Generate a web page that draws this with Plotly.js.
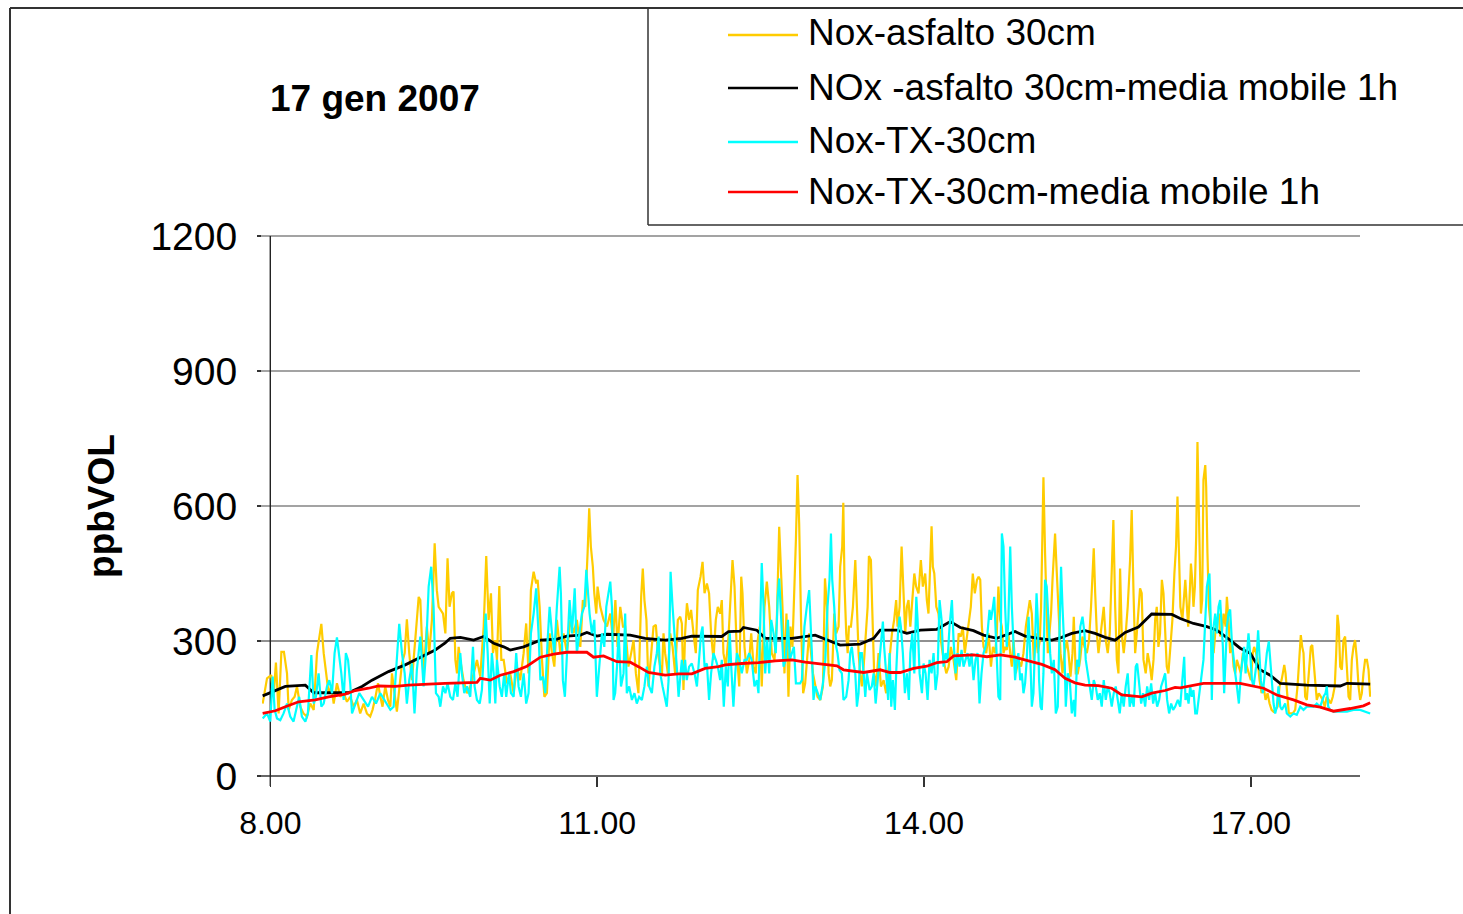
<!DOCTYPE html>
<html><head><meta charset="utf-8">
<script src="https://cdn.plot.ly/plotly-3.0.1.min.js"></script>
<style>html,body{margin:0;padding:0;background:#fff}#chart{width:1463px;height:914px}</style>
</head><body><div id="chart"></div>
<script>
const chartTitle = '17 gen 2007';
const yTitle = 'ppbVOL';
const seriesNames = ['Nox-asfalto 30cm', 'NOx -asfalto 30cm-media mobile 1h', 'Nox-TX-30cm', 'Nox-TX-30cm-media mobile 1h'];
const seriesColors = ['#FFCC00', '#000000', '#00FFFF', '#FF0000'];
const xTickVals = [8, 11, 14, 17];
const xTickText = ['8.00', '11.00', '14.00', '17.00'];
const yTickVals = [0, 300, 600, 900, 1200];

// [minutes after 8.00, ppbVOL]
const noxAsfalto = [
[-4.2,161],[-1.8,217],[0.5,224],[1.8,176],[3.1,252],[4.6,139],[6.1,276],[7.5,276],[9.2,228],[10.1,147],[11.9,169],[13.4,176],[14.7,199],[16.5,154],[18.3,139],[20.2,132],[22,161],[23.9,147],[25.7,273],[27,310],[28.1,338],[29.4,273],[30.6,228],[32.1,184],[33.6,199],[34.9,161],[36.7,206],[38.5,176],[40.4,184],[42.2,165],[44,176],[45.9,154],[47.7,169],[49.5,139],[51.4,161],[53.2,139],[55,132],[56.3,147],[57.8,173],[59.3,206],[60.6,176],[61.8,154],[63.3,199],[64.8,169],[66.1,154],[67,228],[68.4,184],[69.7,143],[72.5,250],[74,273],[75.2,348],[76.5,273],[78,213],[79.4,295],[80.7,347],[81.7,398],[82.6,391],[83.5,302],[84.4,236],[85.3,280],[86.2,332],[87.5,273],[89,347],[90.5,517],[91.7,413],[92.7,376],
[95.1,361],[96.4,317],[97.6,484],[98.7,376],[100,406],[100.9,410],[101.9,258],[102.8,228],[103.7,287],[104.6,258],[106.4,213],[108.3,184],[110.1,199],[112,228],[113.8,258],[115.6,221],[117.5,332],[118.9,489],[120.2,347],[121.5,406],[122.6,273],[123.9,302],[124.8,258],[126.1,422],[127.2,258],[128.5,258],[130.3,206],[132.1,228],[134,184],[135.8,243],[137.6,213],[139.5,273],[140.9,339],[142.2,228],[143.5,413],[145,454],[146.4,428],[147.2,436],[148.3,376],[149.6,258],[150.9,176],[152.3,184],[153.8,317],[155.1,273],[156.4,243],[157.8,347],[159.7,273],[161.5,317],[163.3,273],[165.2,347],[167,317],[168.8,347],[170.7,287],[172.1,391],[173.4,376],[174.7,495],[175.6,595],[176.5,510],[177.6,465],[178.4,406],[179.5,361],[180.2,421],[181.7,376],[183.5,347],[185.4,332],[187.2,361],[188.7,302],[190,391],[191.2,287],[192.7,376],[194.2,332],
[195.4,332],[197.2,243],[198.7,273],[200,302],[201.3,228],[202.7,184],[204.2,398],[205.1,461],[206,391],[207.1,347],[208.2,199],[209.7,273],[211,332],[212.3,336],[213.4,273],[214.7,243],[215.6,221],[216.5,317],[217.4,273],[218.9,228],[220.2,317],[221.5,287],[222.9,228],[224.4,347],[225.7,354],[226.6,339],[227.5,191],[228.4,317],[229.4,384],[230.6,347],[231.7,369],[233,317],[234.3,273],[235.4,413],[236.9,443],[238,476],[239.1,406],[240.4,428],[241.6,406],[242.7,317],[244,258],[245.3,347],[246.4,376],[247.7,361],[248.6,391],[249.5,273],[250.8,243],[252.3,310],[253.4,391],[254.5,480],[255.6,421],[256.9,273],[258.2,199],[259.3,443],[260,406],[261.1,287],[262.4,228],[263.7,258],[264.8,317],[266.1,243],[267.3,228],[268.4,302],[269.5,332],[270.6,199],[272.1,376],[273.4,432],[274.7,376],[276.1,273],[277.6,258],[278.9,347],[280.2,554],[281.3,465],[282,376],[283.1,228],[284.2,361],[285.3,176],[286.4,332],[287.5,287],[288.3,376],[289.4,524],[290.3,669],[291.2,561],[292.3,332],[293.4,184],[294.5,206],[296.7,317],
[298.8,228],[300,206],[301.3,176],[302.8,169],[304.3,199],[305.4,439],[306.5,376],[307.4,228],[308.3,199],[309.2,213],[310.5,361],[311.6,317],[312.9,332],[313.8,465],[314.9,510],[315.5,607],[316.2,421],[317.1,317],[317.9,273],[318.6,332],[319.7,332],[320.8,376],[322.1,480],[323,376],[323.9,273],[324.8,228],[325.7,199],[326.7,243],[328.1,317],[328.9,376],[329.6,489],[330.7,480],[331.4,376],[332.5,228],[333.6,199],[334.9,273],[336.2,199],[337.7,213],[339.1,184],[341,258],[342.3,317],[343.5,347],[344.6,391],[345.4,332],[346.5,376],[347.6,510],[348.7,421],[349.6,317],[350.5,376],[351.4,391],[352.4,332],[353.8,406],[354.6,450],[355.6,421],[356.9,406],[358.2,480],[359.3,421],[360.6,450],[361.5,391],[362.4,361],[363.4,487],[364.1,555],[364.8,465],[365.6,450],[366.7,376],[367.9,361],[369.2,302],[370.7,258],[372.2,228],[373.5,243],[374.7,287],[376.2,258],[377.7,213],[379,317],[380.2,310],[381.3,332],[382.4,273],[383.5,310],[384.6,347],[385.7,376],[386.8,450],[387.9,406],[389.1,436],[390,443],[390.9,436],[391.8,332],[392.7,287],[394.2,273],[395.5,317],[396.8,243],[397.9,287],[399.1,273],
[400,317],[400.9,421],[401.9,347],[402.8,332],[403.7,273],[404.6,287],[405.5,280],[406.4,317],[407.4,273],[408.3,243],[409.2,302],[410.5,228],[411.9,258],[413.4,243],[414.7,273],[416,332],[417.1,361],[418.2,391],[419.3,361],[420.4,258],[421.5,317],[422.6,273],[423.7,302],[424.4,376],[425.2,554],[425.7,664],[426.6,495],[427.4,376],[428.1,273],[429,317],[429.9,361],[430.7,436],[431.4,480],[432.1,539],[432.9,465],[434,347],[435.1,273],[436.2,228],[437.3,273],[438.6,302],[439.5,273],[440.6,221],[441.7,273],[442.4,354],[443.5,228],[444.6,228],[445.9,258],[447.2,310],[448.3,287],[449.6,273],[450.8,302],[451.9,376],[452.9,465],[453.4,506],[454.2,406],[455.1,317],[456,273],[457.1,310],[458.2,347],[458.9,376],[460,302],[461.1,273],[462.2,317],[463.3,450],[464.2,569],[465.2,376],[466.1,258],[467,228],[467.9,461],[468.8,317],[469.9,273],[471,317],[472.1,376],[473.4,480],[474.3,591],[475.3,406],[476.2,273],[477.1,317],[478,376],[478.9,417],[479.8,406],[480.8,258],[482,228],[483.1,273],[484.4,243],[485.3,213],[486.3,258],[487.2,347],[488.1,376],[489,287],[489.9,317],[490.9,436],[491.8,406],[492.7,317],[493.6,243],[494.5,228],[495.4,273],[496.7,347],[497.8,450],[498.7,510],[499.5,621],[500.4,510],[501.1,376],[502.2,347],
[503.8,436],[504.7,376],[505.4,332],[506.1,391],[506.9,472],[507.6,436],[508.3,376],[509.1,421],[509.8,532],[510.5,742],[511.3,569],[512,421],[512.4,361],[513.1,391],[513.8,658],[514.8,691],[515.3,643],[516,495],[516.8,376],[517.5,347],[518.4,310],[519.4,273],[520.3,317],[521.2,347],[522.3,361],[523,310],[524.1,324],[524.9,361],[526,332],[526.7,398],[527.6,347],[528.5,273],[529.4,302],[530.4,243],[531.3,228],[532.2,258],[533.3,243],[534.4,228],[535.5,273],[536.6,258],[537.7,243],[538.8,228],[539.9,213],[541,273],[541.7,287],[542.8,273],[543.6,258],[544.7,213],[545.8,184],[546.9,199],[548,169],[549.1,184],[550.2,161],[551.3,147],[552.4,143],[553.5,147],[554.6,154],[555.7,199],[556.8,213],[557.5,228],[558.3,247],[559,228],[559.7,184],[560.8,139],[563,139],[564.3,147],[565.6,199],[566.7,273],[567.4,313],[568.2,287],[568.9,273],[569.8,176],[570.7,169],[571.8,228],[572.9,287],[573.7,291],[574.4,258],[575.3,199],[576.2,169],[577.3,184],[578.4,176],[579.5,169],[580.6,154],[581.7,176],[582.8,169],[583.9,161],[585,176],[586.1,199],[586.9,273],[587.6,358],[588.3,332],[589.1,243],[590,236],[590.9,302],[591.8,310],[592.8,243],[593.7,176],[594.6,169],[595.5,258],[596.4,287],[597.3,302],[598.3,258],[599.2,199],[600.1,169],[601,184],[601.9,228],[602.8,258],[603.8,258],[604.7,236],[605.6,176]
];

const noxAsfaltoMedia = [
[-4.2,178],[8.3,199],[19.3,202],[23.9,185],[43.1,185],[50.5,199],[56,213],[65.1,232],[74.3,247],[83.5,265],[90.8,280],[96.3,296],[99.1,306],[104.6,308],[112,302],[117.5,310],[123,295],[128.5,287],[132.1,280],[139.5,287],[145,295],[148.7,302],[157.8,304],[163.3,311],[170.7,313],[174.3,319],[179.8,311],[185.4,315],[198.2,313],[206.4,306],[217.4,302],[226.6,306],[232.1,311],[248.6,310],[252.3,321],[258.7,322],[260.5,330],[267.9,324],[272.5,306],[287.2,306],[300,313],[304.6,306],[313.8,291],[324.8,293],[332.2,306],[335.8,324],[345,324],[350.5,317],[357.9,324],[367,326],[374.4,343],[379.9,330],[387.2,323],[392.7,313],[400,306],[410.1,321],[415.6,311],[423,306],[430.3,302],[435.8,308],[441.3,317],[448.6,323],[454.1,317],[459.7,308],[465.2,302],[470.7,319],[478,331],[485.3,360],[496.4,359],[501,350],[508.3,339],[515.7,332],[521.2,324],[528.5,302],[534,284],[539.5,273],[545,236],[550.5,224],[556,206],[570.7,202],[589.1,200],[592.8,206],[605.6,204]
];

const noxTX = [
[-4.2,128],[-1.8,139],[0,121],[1.3,221],[2.4,147],[3.7,128],[5.5,124],[7.3,139],[9.2,161],[11,132],[12.8,121],[14.7,154],[15.9,176],[17.4,132],[19.3,121],[20.7,139],[22.6,269],[23.9,161],[25.1,176],[26.6,228],[28.1,154],[29.4,161],[31.2,199],[32.5,213],[34,184],[35.4,273],[36.7,308],[38,265],[39.1,228],[40.4,169],[41.6,273],[42.8,258],[44,206],[45,139],[46.8,161],[49,184],[51.4,169],[53.8,154],[56,176],[58.2,161],[60.6,184],[62.9,169],[64.8,154],[66.1,147],[67.9,154],[69.7,273],[71,338],[72.5,273],[74,228],[75.2,161],[76.5,213],[78,250],[79.4,139],[80.7,236],[82.6,310],[84.4,199],[85.7,273],[87.2,421],[88.6,465],[89.9,376],[91.2,184],[92.7,176],
[93.6,154],[95.1,199],[96.4,184],[97.6,206],[99.1,176],[100.6,169],[101.9,206],[103.1,176],[104.6,273],[105.5,228],[106.8,184],[108.3,199],[110.1,176],[111.6,287],[112.5,199],[113.8,169],[115.3,161],[116.5,191],[117.5,273],[118.6,361],[119.7,273],[120.8,161],[122,273],[123,228],[123.9,161],[124.8,258],[126.3,199],[127.5,176],[128.8,228],[129.9,176],[131.4,228],[132.5,184],[134,176],[135.4,273],[136.7,199],[138,176],[139.5,228],[140.9,161],[142.2,184],[143.5,317],[145,361],[146.4,417],[147.7,317],[148.7,213],[150.1,221],[151.4,184],[152.7,302],[153.8,376],[155.1,317],[156.4,273],[157.8,376],[159.3,465],[160,406],[161.1,213],[162.2,176],[163.3,273],[164.8,391],[166.1,317],[167.6,417],[168.8,273],[170.3,317],[171.6,361],[172.9,376],[174,458],[174.7,421],[175.8,361],[177.1,317],[178.4,347],[179.8,176],[181.3,258],[182.6,317],[183.9,287],[185,376],[187.2,432],[188.1,376],[189,169],[189.9,184],[190.9,243],[191.8,317],[193.1,199],[194.5,228],
[195.4,361],[196.3,184],[197.6,199],[199.1,169],[200.5,184],[201.8,161],[203.1,176],[204.6,169],[206,199],[207.3,243],[208.6,199],[210.1,184],[211.5,243],[212.8,273],[213.8,310],[214.7,228],[216,199],[217.1,176],[218.3,154],[219.3,213],[220.4,454],[221.5,376],[222.6,317],[223.8,243],[224.8,176],[225.7,228],[226.6,258],[227.5,213],[228.4,258],[229.3,213],[230.6,243],[232.1,250],[233.6,228],[234.9,199],[236.1,258],[237.2,317],[238,332],[239.1,243],[240.4,250],[241.6,169],[242.7,228],[244,273],[245.3,258],[246.4,243],[247.7,213],[248.6,258],[249.7,154],[250.8,243],[251.9,199],[253,317],[253.8,243],[255,154],[256,228],[256.9,273],[258.2,258],[259.6,228],[261.1,258],[262.4,258],[263.7,273],[265.1,258],[266.6,199],[267.9,213],[268.8,184],[269.7,317],[270.6,473],[271.6,376],[272.5,228],[273.6,302],[274.7,228],[275.8,347],[277.1,317],[278.3,273],[279.4,398],[280.2,439],[281.3,332],[282.6,243],[283.8,258],[285,347],[286,258],[287.2,273],[288.3,287],[289.4,206],[291.7,206],[292.7,213],[294.1,332],[295.4,376],[296.7,413],
[298.2,273],[299.1,169],[300.1,199],[301.3,184],[302.8,169],[304.3,206],[305.6,258],[306.8,376],[307.9,436],[308.7,539],[309.4,436],[310.5,376],[311.6,287],[312.3,273],[313.4,236],[314.7,228],[315.6,169],[317.1,176],[318.4,213],[319.3,273],[320.2,287],[321.2,250],[322.1,228],[323,154],[323.9,184],[324.8,273],[325.7,273],[326.7,228],[327.6,176],[328.5,228],[330,191],[331.2,199],[332.2,228],[333.3,161],[334.4,213],[335.5,273],[336.6,317],[337.3,343],[338,287],[339.1,228],[340.2,169],[341,273],[341.9,154],[342.8,213],[343.9,147],[344.6,228],[345.6,317],[346.5,354],[347.2,332],[348.3,273],[349.4,184],[350.5,228],[351.6,169],[352.4,273],[353.5,317],[354.6,228],[355.7,398],[356.4,347],[357.5,228],[358.8,184],[359.7,250],[360.8,228],[361.9,169],[363,258],[364.1,228],[365.2,273],[366.3,191],[367.4,228],[368.5,391],[369.6,347],[370.7,243],[371.8,273],[372.9,258],[374,332],[375.3,391],[376.2,302],[377.3,228],[378.4,273],[379.5,243],[380.6,280],[381.7,243],[382.8,258],[383.9,273],[385,243],[386.1,273],[387.2,213],[388.3,258],[389.4,273],[390.5,161],[391.6,228],[392.7,273],[393.8,287],[394.9,317],[396,369],[396.8,347],[397.9,376],[398.6,398],
[400.9,176],[401.9,169],[402.8,539],[403.7,510],[404.6,376],[405.5,287],[406.4,347],[407.4,510],[408.3,376],[409.2,273],[410.1,213],[411,258],[411.9,273],[412.9,213],[413.8,228],[414.7,184],[415.6,206],[416.5,258],[417.5,354],[418.4,273],[419.3,154],[420.2,184],[421.1,332],[421.9,406],[422.6,347],[423.3,213],[424.1,154],[424.8,147],[425.7,228],[426.6,436],[427.5,421],[428.5,332],[429.4,273],[430.3,228],[431.4,258],[432.5,139],[433.6,154],[434.7,347],[435.4,465],[436.2,376],[437.3,273],[438,154],[439.1,228],[440.2,213],[441.3,139],[442.4,169],[443.1,132],[444.2,258],[445.3,243],[446,332],[447.2,354],[448.3,317],[449,258],[450.1,228],[451.2,199],[452.3,169],[453.4,213],[454.5,199],[455.6,169],[456.7,184],[457.8,154],[458.9,213],[460,169],[461.1,199],[462.2,184],[463.3,154],[464.4,184],[465.5,199],[466.6,169],[467.7,139],[468.8,184],[469.9,154],[471,199],[472.1,228],[473.2,154],[474.3,176],[475.4,154],[476.5,243],[477.3,250],[478.4,199],[479.5,161],[480.6,184],[481.7,154],[482.8,199],[483.9,169],[485,206],[486.1,161],[487.2,184],[488.3,154],[489.4,169],[490.5,199],[491.6,213],[492.7,228],[493.8,169],[494.9,139],[496,161],[497.1,147],[498.2,154],[499.7,169],
[501,154],[501.9,206],[503.2,265],[503.9,169],[504.7,184],[505.6,161],[506.5,199],[507.4,176],[508.3,191],[509.3,139],[510.2,139],[511.1,169],[512,199],[512.7,228],[513.8,258],[514.8,347],[515.7,421],[516.6,443],[517.1,450],[517.9,332],[518.4,169],[519.4,332],[520.3,361],[521.2,317],[522.1,376],[523,391],[523.8,332],[524.5,287],[525.2,184],[526,273],[526.7,332],[527.6,361],[528.5,370],[529.4,302],[530.4,258],[531.3,228],[532.2,199],[533.3,161],[534.4,228],[535.5,273],[536.2,287],[537,228],[537.7,273],[538.6,317],[539.5,273],[540.5,213],[541.4,199],[542.8,243],[543.9,324],[544.7,273],[545.4,213],[546.5,184],[547.6,228],[548.7,273],[549.8,299],[550.5,258],[551.5,199],[552.4,161],[553.3,139],[554.2,154],[555.1,199],[556.1,154],[557,147],[558.8,161],[559.7,139],[561.6,132],[563.4,139],[565.2,136],[567.1,154],[568.9,147],[570.7,154],[572.6,154],[574.4,154],[576.2,161],[578.1,154],[579.9,176],[581,184],[581.7,199],[582.5,154],[583.6,147],[585.4,143],[589.1,143],[592.8,143],[596.4,147],[600.1,147],[605.6,139]
];

const noxTXMedia = [
[-4.2,139],[2.8,145],[8.3,154],[15.6,165],[24.8,169],[32.1,176],[41.3,182],[46.8,190],[54.1,195],[59.6,200],[68.8,199],[76.1,202],[87.2,204],[96.3,206],[113.8,208],[115.6,217],[121.1,213],[126.6,224],[134,232],[141.3,244],[148.7,264],[156,271],[163.3,275],[174.3,275],[178,264],[183.5,267],[190.9,254],[198.2,253],[202.7,243],[208.2,230],[217.4,224],[224.8,227],[232.1,227],[239.4,239],[246.8,243],[250.5,247],[259.6,250],[268.8,252],[278,256],[287.2,258],[294.5,253],[312,245],[315.6,236],[326.7,230],[335.8,236],[341.3,230],[346.8,230],[354.2,239],[361.5,244],[367,252],[372.5,254],[376.2,267],[387.2,269],[394.6,265],[401.9,269],[410.1,264],[417.5,256],[424.8,248],[432.1,236],[437.6,217],[443.1,207],[448.6,202],[456,201],[463.3,195],[468.8,180],[479.8,176],[485.3,184],[492.7,190],[498.2,197],[501,196],[513.8,206],[534,206],[546.9,195],[554.2,180],[563.4,169],[570.7,158],[578.1,153],[585.4,144],[594.6,150],[601.9,156],[605.6,163]
];

const toHour = m => 8 + m / 60;
const allSeries = [noxAsfalto, noxAsfaltoMedia, noxTX, noxTXMedia];
const lineWidths = [2.2, 2.8, 2.2, 2.8];
const traces = allSeries.map((s, i) => ({
  type: 'scatter', mode: 'lines', name: seriesNames[i],
  x: s.map(p => toHour(p[0])), y: s.map(p => p[1]),
  line: { color: seriesColors[i], width: lineWidths[i] },
  showlegend: false, hoverinfo: 'skip'
}));

// geometry (pixels of the 1463x914 page)
const L = 262, R = 1371, T = 236, B = 776;
const xRange = [7.9239, 18.1009], yRange = [0, 1200];
const px = p => (p - L) / (R - L);
const py = p => (B - p) / (B - T);
const dx = t => (t - xRange[0]) / (xRange[1] - xRange[0]);
const dy = v => v / yRange[1];

const FONT = '"Liberation Sans", Arial, sans-serif';
const shapes = [];
const line = (x0, y0, x1, y1, color, width) => shapes.push({ type: 'line', xref: 'paper', yref: 'paper', x0, y0, x1, y1, line: { color, width }, layer: 'below' });

yTickVals.filter(v => v > 0).forEach(v => line(px(258), dy(v), dx(18), dy(v), v === 300 ? '#222222' : '#858585', v === 300 ? 1.2 : 1.6));
line(px(258), dy(0), dx(18), dy(0), '#333333', 1.6);          // x axis
line(dx(8), py(786), dx(8), dy(1200), '#222222', 1.4);        // y axis
// outer chart border
line(px(10), py(8), px(10), py(920), '#333333', 2);
line(px(10), py(8), px(1470), py(8), '#333333', 2);
// legend box
line(px(648), py(8), px(648), py(225), '#333333', 1.5);
line(px(648), py(225), px(1470), py(225), '#333333', 1.5);

const legendLineY = [35, 88, 142, 192];
const legendTextY = [33, 87, 140, 191];
const annotations = [];
seriesNames.forEach((n, i) => {
  shapes.push({ type: 'line', xref: 'paper', yref: 'paper', x0: px(728), x1: px(798), y0: py(legendLineY[i]), y1: py(legendLineY[i]), line: { color: seriesColors[i], width: 2.4 } });
  annotations.push({ xref: 'paper', yref: 'paper', x: px(806), y: py(legendTextY[i]), xanchor: 'left', yanchor: 'middle', text: n, showarrow: false, font: { family: FONT, size: 37, color: '#000' } });
});
annotations.push({ xref: 'paper', yref: 'paper', x: px(268), y: py(99), xanchor: 'left', yanchor: 'middle', text: chartTitle, showarrow: false, font: { family: FONT, size: 37, color: '#000', weight: 700 } });

const layout = {
  width: 1463, height: 914,
  margin: { l: L, r: 1463 - R, t: T, b: 914 - B, pad: 0 },
  paper_bgcolor: '#ffffff', plot_bgcolor: 'rgba(0,0,0,0)',
  font: { family: FONT, color: '#000' },
  showlegend: false,
  xaxis: { range: xRange, showgrid: false, zeroline: false, showline: false, tickmode: 'array', tickvals: xTickVals, ticktext: xTickText,
    ticks: 'outside', ticklen: 10, tickwidth: 1.5, tickcolor: '#333', tickfont: { size: 32, family: FONT, color: '#000' }, ticklabelstandoff: 9, fixedrange: true },
  yaxis: { range: yRange, showgrid: false, zeroline: false, showline: false, tickmode: 'array', tickvals: yTickVals,
    ticks: 'outside', ticklen: 4, tickwidth: 1.5, tickcolor: '#333', tickfont: { size: 39, family: FONT, color: '#000' }, ticklabelstandoff: 12,
    title: { text: yTitle, font: { size: 37, family: FONT, color: '#000', weight: 700 }, standoff: 24 }, fixedrange: true },
  shapes, annotations
};

Plotly.newPlot('chart', traces, layout, { displayModeBar: false, staticPlot: true });
</script></body></html>
